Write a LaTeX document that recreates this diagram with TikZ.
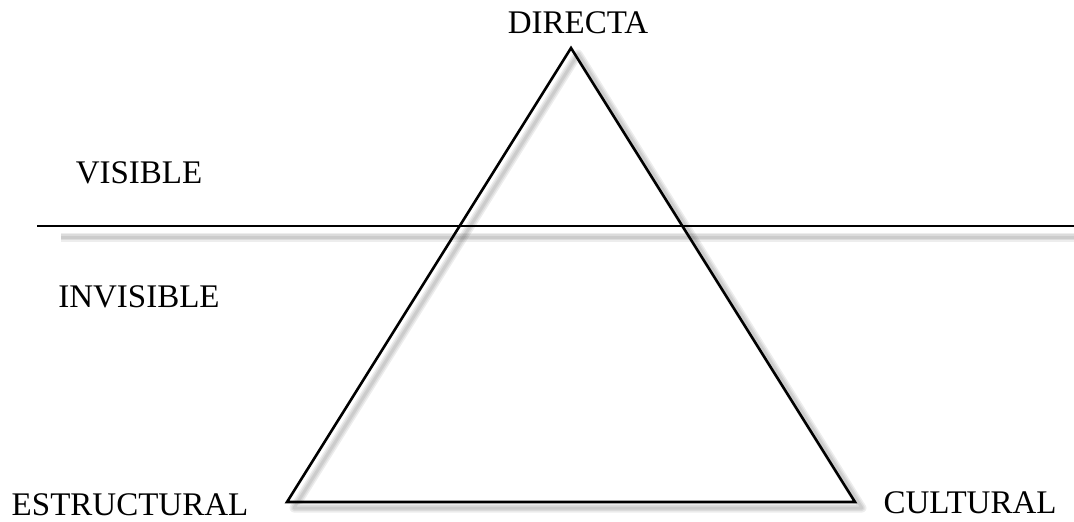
\documentclass[tikz,border=0pt]{standalone}
\usepackage{fontspec}
\setmainfont{Liberation Serif}
\usetikzlibrary{positioning}

\begin{document}
\begin{tikzpicture}[x=0.5pt,y=-0.5pt,
 label/.style={font=\fontsize{16.5}{19}\selectfont,anchor=base,inner sep=0pt},
 edge/.style={line width=1.3pt,line join=miter},
 level/.style={line width=0.7pt},
 shade/.style={line width=#1,black,opacity=0.07,line join=round}]
\useasboundingbox (0,0) rectangle (1074,521);
% vertices of the triangle
\coordinate (apex) at (571,48);
\coordinate (left) at (287,502);
\coordinate (right) at (855,502);
\coordinate (lineL) at (37,226);
\coordinate (lineR) at (1074,226);
% soft shadows
\foreach \w in {1.5pt,3pt,4.5pt}{
 \draw[shade=\w] ([xshift=3.5pt,yshift=-3pt]apex)--([xshift=3.5pt,yshift=-3pt]left)
   --([xshift=3.5pt,yshift=-3pt]right)--cycle;
 \draw[shade=\w] ([xshift=12pt,yshift=-5.5pt]lineL)--([yshift=-5.5pt]lineR);
}
% triangle and dividing line
\draw[edge] (apex)--(left)--(right)--cycle;
\draw[level] (lineL)--(lineR);
% labels
\node[label] (directa) at (578,33) {DIRECTA};
\node[label] (visible) at (139,183) {VISIBLE};
\node[label] (invisible) at (139,307) {INVISIBLE};
\node[label] (estructural) at (130,515) {ESTRUCTURAL};
\node[label] (cultural) at (970,513) {CULTURAL};
\end{tikzpicture}
\end{document}
